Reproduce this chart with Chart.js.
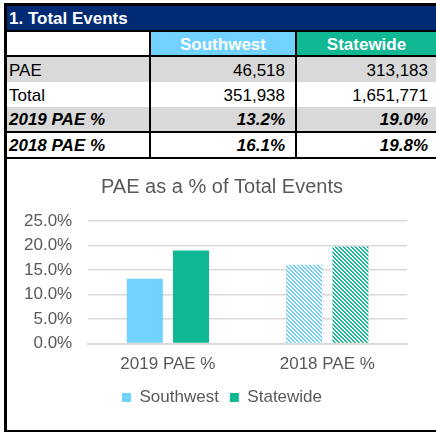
<!DOCTYPE html>
<html>
<head>
<meta charset="utf-8">
<script src="https://cdn.jsdelivr.net/npm/chart.js@4/dist/chart.umd.min.js"></script>
<style>
  body { margin: 0; background: #fff; font-family: "Liberation Sans", Arial, sans-serif; }
  #wrap { position: relative; width: 436px; height: 432px; overflow: hidden; }
  .box { position: absolute; box-sizing: border-box; }
  .txt { position: absolute; box-sizing: border-box; white-space: nowrap; font-size: 17px; color: #000; }
</style>
</head>
<body>
<div id="wrap">
  <div id="chartBox" class="box" style="left:7px; top:159px; width:429px; height:271px;">
    <canvas id="barChart"></canvas>
  </div>
</div>
<script>
// 1. Total Events
var regions = ['Southwest', 'Statewide'];
var paeCounts = ['46,518', '313,183'];
var totalCounts = ['351,938', '1,651,771'];
var pct2019 = [13.2, 19.0];
var pct2018 = [16.1, 19.8];
var yearLabels = ['2019 PAE %', '2018 PAE %'];
var yTicks = [0, 5, 10, 15, 20, 25];

var colors = ['#71d2ff', '#10b894'];
var navy = '#002a73';
var gray = '#d9d9d9';

var wrap = document.getElementById('wrap');
function box(x, y, w, h, bg) {
  var d = document.createElement('div');
  d.className = 'box';
  d.style.cssText = 'left:' + x + 'px;top:' + y + 'px;width:' + w + 'px;height:' + h + 'px;background:' + bg;
  wrap.appendChild(d);
  return d;
}
function text(s, x, y, w, h, align, style) {
  var d = document.createElement('div');
  d.className = 'txt';
  d.textContent = s;
  d.style.cssText = 'left:' + x + 'px;top:' + y + 'px;width:' + w + 'px;height:' + h + 'px;line-height:' + h + 'px;text-align:' + align + ';' + (style || '');
  wrap.appendChild(d);
}

// outer frame
box(4, 3, 432, 3, '#000');
box(4, 3, 3, 429, '#000');
box(4, 430, 432, 2, '#000');

// title bar
box(7, 6, 429, 24, navy);
text('1. Total Events', 9, 7, 300, 24, 'left', 'color:#fff;font-weight:bold;');
box(7, 30, 429, 2, '#000');

// column headers
var colX = [7, 151, 297];
var colW = [142, 144, 139];
box(colX[1], 32, colW[1], 23, colors[0]);
box(colX[2], 32, colW[2], 23, colors[1]);
text(regions[0], colX[1], 33, colW[1], 23, 'center', 'color:#fff;font-weight:bold;');
text(regions[1], colX[2], 33, colW[2], 23, 'center', 'color:#fff;font-weight:bold;');
box(7, 55, 429, 2, '#000');

// body rows
var rows = [
  { label: 'PAE', vals: paeCounts, y: 57, h: 25, bg: gray, style: '' },
  { label: 'Total', vals: totalCounts, y: 82, h: 25, bg: '#fff', style: '' },
  { label: '2019 PAE %', vals: pct2019.map(function (v) { return v.toFixed(1) + '%'; }), y: 107, h: 24, bg: gray, style: 'font-weight:bold;font-style:italic;' },
  { label: '2018 PAE %', vals: pct2018.map(function (v) { return v.toFixed(1) + '%'; }), y: 133, h: 24, bg: '#fff', style: 'font-weight:bold;font-style:italic;' }
];
rows.forEach(function (r) {
  box(7, r.y, 429, r.h, r.bg);
  text(r.label, 9, r.y + 1, 140, r.h, 'left', r.style);
  text(r.vals[0], colX[1], r.y + 1, colW[1] - 10, r.h, 'right', r.style);
  text(r.vals[1], colX[2], r.y + 1, colW[2] - 8, r.h, 'right', r.style);
});
box(7, 131, 429, 2, '#000');
box(7, 157, 429, 2, '#000');

// column dividers
box(149, 32, 2, 127, '#000');
box(295, 32, 2, 127, '#000');

// diagonal hatch for the 2018 bars
function stripes(color) {
  var c = document.createElement('canvas');
  var s = 4;
  c.width = s; c.height = s;
  var g = c.getContext('2d');
  g.fillStyle = '#fff';
  g.fillRect(0, 0, s, s);
  g.fillStyle = color;
  for (var x = 0; x < s; x++) {
    for (var y = 0; y < s; y++) {
      if ((x - y + s) % s < 2) g.fillRect(x, y, 1, 1);
    }
  }
  return g.createPattern(c, 'repeat');
}
var patterns = colors.map(stripes);

var barData = {
  labels: yearLabels,
  datasets: regions.map(function (name, i) {
    return {
      label: name,
      data: [pct2019[i], pct2018[i]],
      backgroundColor: function (ctx) {
        return ctx.dataIndex === 1 ? patterns[i] : colors[i];
      },
      categoryPercentage: 0.58,
      barPercentage: 0.78
    };
  })
};

Chart.defaults.font.family = '"Liberation Sans", Arial, sans-serif';
Chart.defaults.color = '#595959';

var barConfig = {
  type: 'bar',
  data: barData,
  options: {
    responsive: true,
    maintainAspectRatio: false,
    animation: false,
    layout: { padding: { left: 1, right: 0, top: 0, bottom: 14 } },
    plugins: {
      title: {
        display: true,
        text: 'PAE as a % of Total Events',
        font: { size: 20, weight: 'normal' },
        color: '#595959',
        padding: { top: 16, bottom: 22 }
      },
      legend: {
        position: 'bottom',
        labels: {
          boxWidth: 9,
          boxHeight: 9,
          padding: 11,
          font: { size: 17 },
          color: '#595959'
        }
      },
      tooltip: { enabled: false }
    },
    scales: {
      x: {
        grid: { display: false },
        border: { color: '#d9d9d9', width: 2 },
        ticks: { font: { size: 17 }, color: '#595959', padding: 3 }
      },
      y: {
        min: 0,
        max: 25,
        afterBuildTicks: function (axis) {
          axis.ticks = yTicks.map(function (v) { return { value: v }; });
        },
        grid: { color: '#d9d9d9', lineWidth: 1.5, drawTicks: false },
        border: { display: false },
        ticks: {
          font: { size: 17 },
          color: '#595959',
          padding: 16,
          callback: function (v) { return v.toFixed(1) + '%'; }
        }
      },
      // empty right-hand margin so title and legend stay centred on the panel
      yRight: {
        position: 'right',
        grid: { display: false },
        border: { display: false },
        ticks: { display: false },
        afterFit: function (axis) { axis.width = 29; }
      }
    }
  }
};

var barChart = new Chart(document.getElementById('barChart'), barConfig);
</script>
</body>
</html>
